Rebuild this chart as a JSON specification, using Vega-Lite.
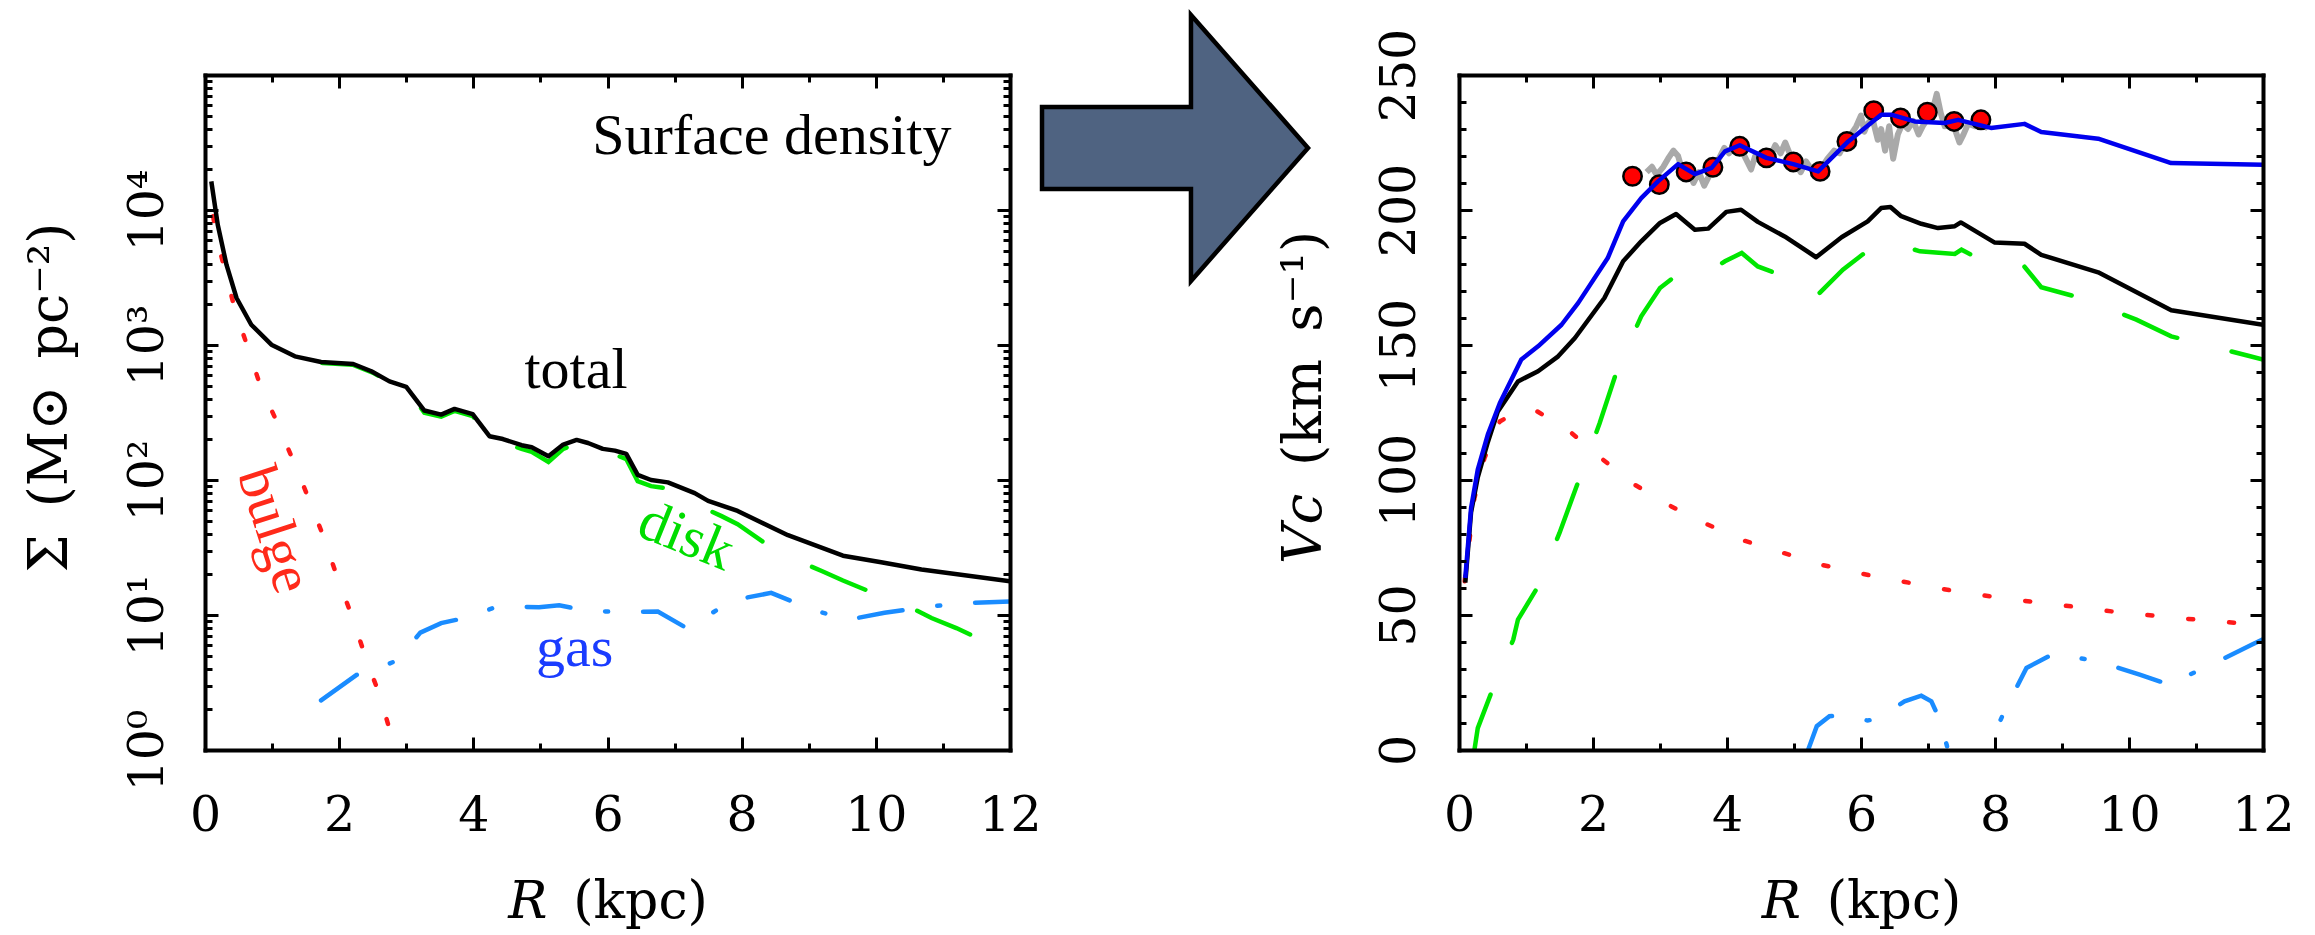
{
  "$schema": "https://vega.github.io/schema/vega-lite/v6.json",
  "background": "white",
  "padding": {"left": 22, "top": 5, "right": 5, "bottom": 10},
  "bounds": "flush",
  "spacing": 0,
  "config": {"view": {"stroke": null}, "axis": {"grid": false}},
  "datasets": {
    "sigma": [
      {"s": "total", "R": 0.094, "v": 16300}, {"s": "total", "R": 0.19, "v": 7780}, {"s": "total", "R": 0.32, "v": 3935}, {"s": "total", "R": 0.47, "v": 2230}, {"s": "total", "R": 0.69, "v": 1413}, {"s": "total", "R": 0.99, "v": 1005}, {"s": "total", "R": 1.34, "v": 824}, {"s": "total", "R": 1.73, "v": 748}, {"s": "total", "R": 2.21, "v": 723}, {"s": "total", "R": 2.48, "v": 639}, {"s": "total", "R": 2.75, "v": 538}, {"s": "total", "R": 3.0, "v": 489}, {"s": "total", "R": 3.27, "v": 327}, {"s": "total", "R": 3.52, "v": 305}, {"s": "total", "R": 3.72, "v": 336}, {"s": "total", "R": 3.99, "v": 308}, {"s": "total", "R": 4.24, "v": 211}, {"s": "total", "R": 4.44, "v": 201}, {"s": "total", "R": 4.72, "v": 181}, {"s": "total", "R": 4.87, "v": 175}, {"s": "total", "R": 5.12, "v": 150}, {"s": "total", "R": 5.34, "v": 183}, {"s": "total", "R": 5.54, "v": 198}, {"s": "total", "R": 5.71, "v": 188}, {"s": "total", "R": 5.93, "v": 170}, {"s": "total", "R": 6.11, "v": 165}, {"s": "total", "R": 6.28, "v": 156}, {"s": "total", "R": 6.45, "v": 109}, {"s": "total", "R": 6.65, "v": 100}, {"s": "total", "R": 6.9, "v": 96}, {"s": "total", "R": 7.3, "v": 80}, {"s": "total", "R": 7.5, "v": 70}, {"s": "total", "R": 7.94, "v": 59}, {"s": "total", "R": 8.69, "v": 39}, {"s": "total", "R": 9.51, "v": 27.5}, {"s": "total", "R": 10.08, "v": 24.6}, {"s": "total", "R": 10.68, "v": 21.7}, {"s": "total", "R": 12.0, "v": 17.8},
      {"s": "disk", "R": 1.75, "v": 735}, {"s": "disk", "R": 2.2, "v": 715}, {"s": "disk", "R": 2.5, "v": 625}, {"s": "disk", "R": 2.75, "v": 530}, {"s": "disk", "R": 3.0, "v": 480}, {"s": "disk", "R": 3.27, "v": 315}, {"s": "disk", "R": 3.52, "v": 295}, {"s": "disk", "R": 3.72, "v": 325}, {"s": "disk", "R": 3.99, "v": 298}, {"s": "disk", "R": 4.24, "v": 200}, {"s": "disk", "R": 4.44, "v": 190}, {"s": "disk", "R": 4.72, "v": 170}, {"s": "disk", "R": 4.87, "v": 162}, {"s": "disk", "R": 5.12, "v": 136}, {"s": "disk", "R": 5.34, "v": 170}, {"s": "disk", "R": 5.54, "v": 186}, {"s": "disk", "R": 5.71, "v": 177}, {"s": "disk", "R": 5.93, "v": 159}, {"s": "disk", "R": 6.11, "v": 154}, {"s": "disk", "R": 6.28, "v": 143}, {"s": "disk", "R": 6.45, "v": 98}, {"s": "disk", "R": 6.65, "v": 90}, {"s": "disk", "R": 6.95, "v": 86}, {"s": "disk", "R": 7.3, "v": 68}, {"s": "disk", "R": 7.5, "v": 60}, {"s": "disk", "R": 7.7, "v": 54}, {"s": "disk", "R": 7.94, "v": 47}, {"s": "disk", "R": 8.45, "v": 31.4}, {"s": "disk", "R": 8.69, "v": 27}, {"s": "disk", "R": 9.21, "v": 21}, {"s": "disk", "R": 9.51, "v": 18}, {"s": "disk", "R": 10.03, "v": 14.1}, {"s": "disk", "R": 10.5, "v": 11.5}, {"s": "disk", "R": 10.83, "v": 9.5}, {"s": "disk", "R": 11.2, "v": 8}, {"s": "disk", "R": 11.62, "v": 6.4}, {"s": "disk", "R": 12.0, "v": 5.6},
      {"s": "gas", "R": 1.73, "v": 2.33}, {"s": "gas", "R": 2.26, "v": 3.6}, {"s": "gas", "R": 2.5, "v": 3.9}, {"s": "gas", "R": 2.86, "v": 4.6}, {"s": "gas", "R": 3.21, "v": 7.4}, {"s": "gas", "R": 3.52, "v": 8.7}, {"s": "gas", "R": 3.87, "v": 9.5}, {"s": "gas", "R": 4.37, "v": 11.6}, {"s": "gas", "R": 4.98, "v": 11.4}, {"s": "gas", "R": 5.28, "v": 11.8}, {"s": "gas", "R": 5.68, "v": 10.8}, {"s": "gas", "R": 6.19, "v": 10.5}, {"s": "gas", "R": 6.75, "v": 10.6}, {"s": "gas", "R": 7.18, "v": 8.0}, {"s": "gas", "R": 7.4, "v": 9.2}, {"s": "gas", "R": 7.85, "v": 12.8}, {"s": "gas", "R": 8.44, "v": 14.6}, {"s": "gas", "R": 9.04, "v": 11}, {"s": "gas", "R": 9.58, "v": 9.2}, {"s": "gas", "R": 10.13, "v": 10.4}, {"s": "gas", "R": 10.83, "v": 11.6}, {"s": "gas", "R": 11.42, "v": 12.3}, {"s": "gas", "R": 12.0, "v": 12.6},
      {"s": "bulge", "R": 0.12, "v": 9000}, {"s": "bulge", "R": 0.2, "v": 5500}, {"s": "bulge", "R": 0.29, "v": 3700}, {"s": "bulge", "R": 0.44, "v": 1880}, {"s": "bulge", "R": 0.64, "v": 950}, {"s": "bulge", "R": 0.82, "v": 508}, {"s": "bulge", "R": 1.09, "v": 257}, {"s": "bulge", "R": 1.31, "v": 141}, {"s": "bulge", "R": 1.54, "v": 74}, {"s": "bulge", "R": 1.75, "v": 40}, {"s": "bulge", "R": 1.95, "v": 20.5}, {"s": "bulge", "R": 2.2, "v": 9.5}, {"s": "bulge", "R": 2.41, "v": 4.6}, {"s": "bulge", "R": 2.61, "v": 2.5}, {"s": "bulge", "R": 2.76, "v": 1.37}, {"s": "bulge", "R": 2.85, "v": 1.0}
    ],
    "vc": [
      {"s": "model", "R": 0.094, "v": 63.7}, {"s": "model", "R": 0.18, "v": 89.6}, {"s": "model", "R": 0.28, "v": 103.8}, {"s": "model", "R": 0.43, "v": 116.8}, {"s": "model", "R": 0.61, "v": 128.5}, {"s": "model", "R": 0.93, "v": 144.6}, {"s": "model", "R": 1.18, "v": 149.5}, {"s": "model", "R": 1.53, "v": 157.5}, {"s": "model", "R": 1.78, "v": 165.6}, {"s": "model", "R": 2.22, "v": 182.2}, {"s": "model", "R": 2.45, "v": 195.8}, {"s": "model", "R": 2.72, "v": 204.4}, {"s": "model", "R": 2.97, "v": 210.6}, {"s": "model", "R": 3.27, "v": 217}, {"s": "model", "R": 3.52, "v": 213.3}, {"s": "model", "R": 3.77, "v": 215.6}, {"s": "model", "R": 3.97, "v": 221.7}, {"s": "model", "R": 4.19, "v": 224}, {"s": "model", "R": 4.59, "v": 219.3}, {"s": "model", "R": 4.99, "v": 217}, {"s": "model", "R": 5.36, "v": 214.3}, {"s": "model", "R": 5.81, "v": 225.4}, {"s": "model", "R": 6.3, "v": 235.3}, {"s": "model", "R": 6.45, "v": 235.3}, {"s": "model", "R": 6.8, "v": 232.8}, {"s": "model", "R": 7.25, "v": 232.2}, {"s": "model", "R": 7.45, "v": 233.4}, {"s": "model", "R": 7.94, "v": 230.4}, {"s": "model", "R": 8.44, "v": 231.9}, {"s": "model", "R": 8.69, "v": 228.9}, {"s": "model", "R": 9.54, "v": 226.4}, {"s": "model", "R": 10.63, "v": 217.4}, {"s": "model", "R": 12.0, "v": 216.8},
      {"s": "total", "R": 0.094, "v": 62}, {"s": "total", "R": 0.18, "v": 88}, {"s": "total", "R": 0.28, "v": 101}, {"s": "total", "R": 0.43, "v": 114}, {"s": "total", "R": 0.58, "v": 125.4}, {"s": "total", "R": 0.88, "v": 136.5}, {"s": "total", "R": 1.18, "v": 140.3}, {"s": "total", "R": 1.48, "v": 145.8}, {"s": "total", "R": 1.73, "v": 152.6}, {"s": "total", "R": 2.17, "v": 167.4}, {"s": "total", "R": 2.45, "v": 181}, {"s": "total", "R": 2.72, "v": 188.4}, {"s": "total", "R": 3.0, "v": 195.2}, {"s": "total", "R": 3.24, "v": 198.5}, {"s": "total", "R": 3.52, "v": 192.7}, {"s": "total", "R": 3.72, "v": 193.1}, {"s": "total", "R": 3.99, "v": 199.3}, {"s": "total", "R": 4.21, "v": 200.1}, {"s": "total", "R": 4.46, "v": 195.6}, {"s": "total", "R": 4.86, "v": 190.2}, {"s": "total", "R": 5.33, "v": 182.5}, {"s": "total", "R": 5.71, "v": 189.9}, {"s": "total", "R": 6.1, "v": 195.8}, {"s": "total", "R": 6.3, "v": 200.7}, {"s": "total", "R": 6.44, "v": 201.1}, {"s": "total", "R": 6.6, "v": 197.7}, {"s": "total", "R": 6.9, "v": 194.9}, {"s": "total", "R": 7.15, "v": 193.3}, {"s": "total", "R": 7.4, "v": 194}, {"s": "total", "R": 7.49, "v": 195.4}, {"s": "total", "R": 7.99, "v": 188}, {"s": "total", "R": 8.44, "v": 187.5}, {"s": "total", "R": 8.69, "v": 183.4}, {"s": "total", "R": 9.54, "v": 176.9}, {"s": "total", "R": 10.63, "v": 162.9}, {"s": "total", "R": 12.0, "v": 157.5},
      {"s": "disk", "R": 0.23, "v": 0}, {"s": "disk", "R": 0.28, "v": 8.1}, {"s": "disk", "R": 0.48, "v": 21.1}, {"s": "disk", "R": 0.81, "v": 40.9}, {"s": "disk", "R": 0.88, "v": 48.3}, {"s": "disk", "R": 1.18, "v": 60.6}, {"s": "disk", "R": 1.5, "v": 80.4}, {"s": "disk", "R": 1.8, "v": 100.7}, {"s": "disk", "R": 2.1, "v": 121.1}, {"s": "disk", "R": 2.37, "v": 141.5}, {"s": "disk", "R": 2.72, "v": 160.6}, {"s": "disk", "R": 3.0, "v": 171.1}, {"s": "disk", "R": 3.27, "v": 176.3}, {"s": "disk", "R": 3.52, "v": 176}, {"s": "disk", "R": 3.72, "v": 177}, {"s": "disk", "R": 3.97, "v": 181}, {"s": "disk", "R": 4.22, "v": 184.1}, {"s": "disk", "R": 4.46, "v": 179.1}, {"s": "disk", "R": 4.76, "v": 176.3}, {"s": "disk", "R": 5.1, "v": 172}, {"s": "disk", "R": 5.33, "v": 168}, {"s": "disk", "R": 5.48, "v": 171.7}, {"s": "disk", "R": 5.73, "v": 177.9}, {"s": "disk", "R": 6.15, "v": 185.9}, {"s": "disk", "R": 6.44, "v": 188}, {"s": "disk", "R": 6.88, "v": 184.7}, {"s": "disk", "R": 7.4, "v": 183.7}, {"s": "disk", "R": 7.5, "v": 185.3}, {"s": "disk", "R": 7.72, "v": 182.5}, {"s": "disk", "R": 8.0, "v": 181}, {"s": "disk", "R": 8.44, "v": 179}, {"s": "disk", "R": 8.69, "v": 171.4}, {"s": "disk", "R": 9.31, "v": 167.2}, {"s": "disk", "R": 10.11, "v": 159.4}, {"s": "disk", "R": 10.63, "v": 153.2}, {"s": "disk", "R": 10.93, "v": 151.4}, {"s": "disk", "R": 11.78, "v": 146}, {"s": "disk", "R": 12.0, "v": 144.6},
      {"s": "bulge", "R": 0.085, "v": 62.5}, {"s": "bulge", "R": 0.23, "v": 93.3}, {"s": "bulge", "R": 0.38, "v": 108.1}, {"s": "bulge", "R": 0.61, "v": 121.7}, {"s": "bulge", "R": 0.85, "v": 125}, {"s": "bulge", "R": 1.15, "v": 125.7}, {"s": "bulge", "R": 1.68, "v": 117.4}, {"s": "bulge", "R": 2.15, "v": 107.5}, {"s": "bulge", "R": 2.62, "v": 98.3}, {"s": "bulge", "R": 3.17, "v": 90.2}, {"s": "bulge", "R": 3.72, "v": 83.4}, {"s": "bulge", "R": 4.26, "v": 77.5}, {"s": "bulge", "R": 4.84, "v": 73}, {"s": "bulge", "R": 5.41, "v": 68.6}, {"s": "bulge", "R": 6.03, "v": 65.2}, {"s": "bulge", "R": 6.6, "v": 62.5}, {"s": "bulge", "R": 7.22, "v": 59.6}, {"s": "bulge", "R": 7.82, "v": 57.3}, {"s": "bulge", "R": 8.42, "v": 55.3}, {"s": "bulge", "R": 9.04, "v": 53.5}, {"s": "bulge", "R": 9.64, "v": 51.6}, {"s": "bulge", "R": 10.23, "v": 50.1}, {"s": "bulge", "R": 10.86, "v": 48.6}, {"s": "bulge", "R": 11.48, "v": 47.3}, {"s": "bulge", "R": 12.0, "v": 46.3},
      {"s": "gas", "R": 5.21, "v": 0}, {"s": "gas", "R": 5.34, "v": 8.8}, {"s": "gas", "R": 5.53, "v": 12.5}, {"s": "gas", "R": 5.63, "v": 12.8}, {"s": "gas", "R": 6.1, "v": 10.9}, {"s": "gas", "R": 6.23, "v": 11.6}, {"s": "gas", "R": 6.65, "v": 18}, {"s": "gas", "R": 6.9, "v": 20.1}, {"s": "gas", "R": 7.05, "v": 18}, {"s": "gas", "R": 7.17, "v": 11.6}, {"s": "gas", "R": 7.3, "v": 0}, {"s": "gas", "R": 7.5, "v": -12}, {"s": "gas", "R": 7.7, "v": -8}, {"s": "gas", "R": 7.87, "v": 0}, {"s": "gas", "R": 7.94, "v": 3.2}, {"s": "gas", "R": 8.14, "v": 14.3}, {"s": "gas", "R": 8.47, "v": 30.4}, {"s": "gas", "R": 8.87, "v": 35.6}, {"s": "gas", "R": 8.99, "v": 34.9}, {"s": "gas", "R": 9.49, "v": 33.2}, {"s": "gas", "R": 10.16, "v": 27.9}, {"s": "gas", "R": 10.63, "v": 24}, {"s": "gas", "R": 10.66, "v": 25.2}, {"s": "gas", "R": 11.18, "v": 31}, {"s": "gas", "R": 11.83, "v": 39}, {"s": "gas", "R": 12.0, "v": 41}
    ],
    "obs": [
      {"R": 2.59, "v": 212.5}, {"R": 2.99, "v": 209.4}, {"R": 3.39, "v": 214.1}, {"R": 3.79, "v": 215.8}, {"R": 4.19, "v": 223.6}, {"R": 4.59, "v": 219.3}, {"R": 4.99, "v": 217.8}, {"R": 5.39, "v": 214.3}, {"R": 5.79, "v": 225.4}, {"R": 6.19, "v": 236.8}, {"R": 6.59, "v": 234.1}, {"R": 6.99, "v": 236.2}, {"R": 7.39, "v": 232.8}, {"R": 7.79, "v": 233.4}
    ],
    "grey": [
      {"R": 2.8, "v": 214}, {"R": 2.88, "v": 216}, {"R": 2.95, "v": 213}, {"R": 3.05, "v": 216}, {"R": 3.12, "v": 219}, {"R": 3.2, "v": 222}, {"R": 3.27, "v": 220}, {"R": 3.35, "v": 213}, {"R": 3.42, "v": 215}, {"R": 3.5, "v": 210}, {"R": 3.58, "v": 214}, {"R": 3.66, "v": 209}, {"R": 3.72, "v": 212}, {"R": 3.8, "v": 216}, {"R": 3.88, "v": 219}, {"R": 3.96, "v": 223}, {"R": 4.03, "v": 221}, {"R": 4.1, "v": 224}, {"R": 4.2, "v": 223}, {"R": 4.28, "v": 219}, {"R": 4.36, "v": 215}, {"R": 4.42, "v": 220}, {"R": 4.5, "v": 218}, {"R": 4.58, "v": 222}, {"R": 4.65, "v": 220}, {"R": 4.72, "v": 224}, {"R": 4.8, "v": 221}, {"R": 4.87, "v": 225}, {"R": 4.95, "v": 220}, {"R": 5.03, "v": 217}, {"R": 5.1, "v": 214}, {"R": 5.18, "v": 218}, {"R": 5.26, "v": 215}, {"R": 5.34, "v": 213}, {"R": 5.42, "v": 216}, {"R": 5.5, "v": 219}, {"R": 5.6, "v": 222}, {"R": 5.68, "v": 221}, {"R": 5.76, "v": 225}, {"R": 5.85, "v": 228}, {"R": 5.93, "v": 231}, {"R": 6.0, "v": 235}, {"R": 6.05, "v": 229}, {"R": 6.1, "v": 232}, {"R": 6.17, "v": 234}, {"R": 6.25, "v": 226}, {"R": 6.3, "v": 230}, {"R": 6.36, "v": 222}, {"R": 6.42, "v": 231}, {"R": 6.48, "v": 219}, {"R": 6.55, "v": 228}, {"R": 6.62, "v": 232}, {"R": 6.7, "v": 230}, {"R": 6.78, "v": 233}, {"R": 6.86, "v": 228}, {"R": 6.92, "v": 231}, {"R": 7.0, "v": 234}, {"R": 7.07, "v": 237}, {"R": 7.13, "v": 243}, {"R": 7.19, "v": 236}, {"R": 7.25, "v": 231}, {"R": 7.32, "v": 234}, {"R": 7.4, "v": 230}, {"R": 7.47, "v": 225}, {"R": 7.53, "v": 228}, {"R": 7.6, "v": 232}, {"R": 7.7, "v": 231}, {"R": 7.8, "v": 233}, {"R": 7.9, "v": 230}
    ],
    "annot": [
      {"label": "Surface density", "R": 8.45, "v": 26000},
      {"label": "total", "R": 5.53, "v": 480},
      {"label": "disk", "R": 7.17, "v": 37.8},
      {"label": "gas", "R": 5.51, "v": 4.19},
      {"label": "bulge", "R": 1.02, "v": 42.6}
    ],
    "arrow": [{"x": 0.3675, "y": 0.8919}]
  },
  "hconcat": [
    {
      "width": 805,
      "height": 675,
      "layer": [
        {
          "data": {"name": "sigma"},
          "transform": [{"filter": "datum.s == 'gas'"}],
          "mark": {"type": "line", "color": "#1a8cff", "strokeWidth": 4.5, "strokeDash": [44, 35, 3, 35], "strokeCap": "round", "clip": true},
          "encoding": {
            "x": {"field": "R", "type": "quantitative", "scale": {"domain": [0, 12], "nice": false, "zero": false},
              "axis": {"orient": "bottom", "values": [0,1,2,3,4,5,6,7,8,9,10,11,12], "labelExpr": "datum.value % 2 == 0 ? datum.label : ''", "labelFont": "DejaVu Serif", "labelFontSize": 49, "labelColor": "black", "labelPadding": 54, "labelFlush": false, "labelOverlap": false, "tickSize": {"condition": {"test": "datum.value % 2 == 0", "value": -13}, "value": -7}, "tickWidth": 3, "tickColor": "black", "domainWidth": 4, "domainColor": "black", "domainCap": "square", "title": "𝑅\u2002(kpc)", "titleFont": "DejaVu Serif", "titleFontSize": 52, "titleFontWeight": "normal", "titleColor": "black", "titlePadding": 30, "zindex": 1}},
            "y": {"field": "v", "type": "quantitative", "scale": {"type": "log", "domain": [1, 100000], "nice": false},
              "axis": {"orient": "left", "values": [1,2,3,4,5,6,7,8,9,10,20,30,40,50,60,70,80,90,100,200,300,400,500,600,700,800,900,1000,2000,3000,4000,5000,6000,7000,8000,9000,10000,20000,30000,40000,50000,60000,70000,80000,90000,100000], "labelExpr": "datum.value == 1 ? '10⁰' : datum.value == 10 ? '10¹' : datum.value == 100 ? '10²' : datum.value == 1000 ? '10³' : datum.value == 10000 ? '10⁴' : ''", "labelAngle": 270, "labelAlign": "center", "labelBaseline": "alphabetic", "labelFont": "DejaVu Serif", "labelFontSize": 49, "labelColor": "black", "labelPadding": 56, "labelFlush": false, "labelOverlap": false, "tickSize": {"condition": {"test": "indexof([1,10,100,1000,10000,100000], datum.value) >= 0", "value": -13}, "value": -7}, "tickWidth": 3, "tickColor": "black", "domainWidth": 4, "domainColor": "black", "domainCap": "square", "title": "Σ\u2002(M⊙\u2002pc⁻²)", "titleFont": "DejaVu Serif", "titleFontSize": 54, "titleFontWeight": "normal", "titleColor": "black", "titleAngle": 270, "titleBaseline": "bottom", "titlePadding": 40, "titleY": 322, "zindex": 1}}
          }
        },
        {
          "data": {"name": "sigma"},
          "transform": [{"filter": "datum.s == 'bulge'"}],
          "mark": {"type": "line", "color": "#ff1a1a", "strokeWidth": 4.5, "strokeDash": [5, 36], "strokeCap": "round", "clip": true},
          "encoding": {
            "x": {"field": "R", "type": "quantitative", "scale": {"domain": [0, 12], "nice": false, "zero": false},
              "axis": {"orient": "top", "values": [0,1,2,3,4,5,6,7,8,9,10,11,12], "labels": false, "tickSize": {"condition": {"test": "datum.value % 2 == 0", "value": -13}, "value": -7}, "tickWidth": 3, "tickColor": "black", "domainWidth": 4, "domainColor": "black", "domainCap": "square", "title": null, "zindex": 1}},
            "y": {"field": "v", "type": "quantitative", "scale": {"type": "log", "domain": [1, 100000], "nice": false},
              "axis": {"orient": "right", "values": [1,2,3,4,5,6,7,8,9,10,20,30,40,50,60,70,80,90,100,200,300,400,500,600,700,800,900,1000,2000,3000,4000,5000,6000,7000,8000,9000,10000,20000,30000,40000,50000,60000,70000,80000,90000,100000], "labels": false, "tickSize": {"condition": {"test": "indexof([1,10,100,1000,10000,100000], datum.value) >= 0", "value": -13}, "value": -7}, "tickWidth": 3, "tickColor": "black", "domainWidth": 4, "domainColor": "black", "domainCap": "square", "title": null, "zindex": 1}}
          }
        },
        {
          "data": {"name": "sigma"},
          "transform": [{"filter": "datum.s == 'disk'"}],
          "mark": {"type": "line", "color": "#00e600", "strokeWidth": 4.5, "strokeDash": [58, 56], "strokeCap": "round", "clip": true},
          "encoding": {
            "x": {"field": "R", "type": "quantitative", "scale": {"domain": [0, 12], "nice": false, "zero": false}, "axis": null},
            "y": {"field": "v", "type": "quantitative", "scale": {"type": "log", "domain": [1, 100000], "nice": false}, "axis": null}
          }
        },
        {
          "data": {"name": "sigma"},
          "transform": [{"filter": "datum.s == 'total'"}],
          "mark": {"type": "line", "color": "black", "strokeWidth": 4.5, "strokeJoin": "round", "clip": true},
          "encoding": {
            "x": {"field": "R", "type": "quantitative", "scale": {"domain": [0, 12], "nice": false, "zero": false}, "axis": null},
            "y": {"field": "v", "type": "quantitative", "scale": {"type": "log", "domain": [1, 100000], "nice": false}, "axis": null}
          }
        },
        {
          "data": {"name": "annot"},
          "transform": [{"filter": "datum.label == 'Surface density' || datum.label == 'total'"}],
          "mark": {"type": "text", "font": "Liberation Serif", "fontSize": 58, "color": "black", "align": "center", "baseline": "alphabetic"},
          "encoding": {
            "x": {"field": "R", "type": "quantitative", "axis": null},
            "y": {"field": "v", "type": "quantitative", "axis": null},
            "text": {"field": "label"}
          }
        },
        {
          "data": {"name": "annot"},
          "transform": [{"filter": "datum.label == 'gas'"}],
          "mark": {"type": "text", "font": "Liberation Serif", "fontSize": 58, "color": "#1a3cff", "align": "center", "baseline": "alphabetic"},
          "encoding": {
            "x": {"field": "R", "type": "quantitative", "axis": null},
            "y": {"field": "v", "type": "quantitative", "axis": null},
            "text": {"field": "label"}
          }
        },
        {
          "data": {"name": "annot"},
          "transform": [{"filter": "datum.label == 'disk'"}],
          "mark": {"type": "text", "font": "Liberation Serif", "fontSize": 58, "color": "#00dd00", "align": "center", "baseline": "middle", "angle": 22},
          "encoding": {
            "x": {"field": "R", "type": "quantitative", "axis": null},
            "y": {"field": "v", "type": "quantitative", "axis": null},
            "text": {"field": "label"}
          }
        },
        {
          "data": {"name": "annot"},
          "transform": [{"filter": "datum.label == 'bulge'"}],
          "mark": {"type": "text", "font": "Liberation Serif", "fontSize": 58, "color": "#ff2a1a", "align": "center", "baseline": "middle", "angle": 72},
          "encoding": {
            "x": {"field": "R", "type": "quantitative", "axis": null},
            "y": {"field": "v", "type": "quantitative", "axis": null},
            "text": {"field": "label"}
          }
        }
      ],
      "resolve": {"axis": {"x": "independent", "y": "independent"}}
    },
    {
      "width": 449,
      "height": 675,
      "data": {"name": "arrow"},
      "mark": {"type": "point", "shape": "M -1 -0.308 L 0.12 -0.308 L 0.12 -1 L 1 0 L 0.12 1 L 0.12 0.308 L -1 0.308 Z", "size": 70756, "filled": true, "fill": "#4f6381", "stroke": "black", "strokeWidth": 4.5, "strokeJoin": "miter", "opacity": 1},
      "encoding": {
        "x": {"field": "x", "type": "quantitative", "scale": {"domain": [0, 1], "nice": false, "zero": false}, "axis": null},
        "y": {"field": "y", "type": "quantitative", "scale": {"domain": [0, 1], "nice": false, "zero": false}, "axis": null}
      }
    },
    {
      "width": 804,
      "height": 675,
      "layer": [
        {
          "data": {"name": "grey"},
          "mark": {"type": "line", "color": "#a9a9a9", "strokeWidth": 6, "strokeJoin": "round", "clip": true},
          "encoding": {
            "x": {"field": "R", "type": "quantitative", "scale": {"domain": [0, 12], "nice": false, "zero": false},
              "axis": {"orient": "bottom", "values": [0,1,2,3,4,5,6,7,8,9,10,11,12], "labelExpr": "datum.value % 2 == 0 ? datum.label : ''", "labelFont": "DejaVu Serif", "labelFontSize": 49, "labelColor": "black", "labelPadding": 54, "labelFlush": false, "labelOverlap": false, "tickSize": {"condition": {"test": "datum.value % 2 == 0", "value": -13}, "value": -7}, "tickWidth": 3, "tickColor": "black", "domainWidth": 4, "domainColor": "black", "domainCap": "square", "title": "𝑅\u2002(kpc)", "titleFont": "DejaVu Serif", "titleFontSize": 52, "titleFontWeight": "normal", "titleColor": "black", "titlePadding": 30, "zindex": 1}},
            "y": {"field": "v", "type": "quantitative", "scale": {"domain": [0, 250], "nice": false, "zero": false},
              "axis": {"orient": "left", "values": [0,10,20,30,40,50,60,70,80,90,100,110,120,130,140,150,160,170,180,190,200,210,220,230,240,250], "labelExpr": "datum.value % 50 == 0 ? datum.label : ''", "labelAngle": 270, "labelAlign": "center", "labelBaseline": "alphabetic", "labelFont": "DejaVu Serif", "labelFontSize": 49, "labelColor": "black", "labelPadding": 58, "labelFlush": false, "labelOverlap": false, "tickSize": {"condition": {"test": "datum.value % 50 == 0", "value": -13}, "value": -7}, "tickWidth": 3, "tickColor": "black", "domainWidth": 4, "domainColor": "black", "domainCap": "square", "title": "𝑉𝑐\u2002(km\u2002s⁻¹)", "titleFont": "DejaVu Serif", "titleFontSize": 55, "titleFontWeight": "normal", "titleColor": "black", "titleAngle": 270, "titleBaseline": "bottom", "titlePadding": 37, "titleY": 322, "zindex": 1}}
          }
        },
        {
          "data": {"name": "vc"},
          "transform": [{"filter": "datum.s == 'bulge'"}],
          "mark": {"type": "line", "color": "#ff1a1a", "strokeWidth": 4.5, "strokeDash": [5, 36], "strokeCap": "round", "clip": true},
          "encoding": {
            "x": {"field": "R", "type": "quantitative", "scale": {"domain": [0, 12], "nice": false, "zero": false},
              "axis": {"orient": "top", "values": [0,1,2,3,4,5,6,7,8,9,10,11,12], "labels": false, "tickSize": {"condition": {"test": "datum.value % 2 == 0", "value": -13}, "value": -7}, "tickWidth": 3, "tickColor": "black", "domainWidth": 4, "domainColor": "black", "domainCap": "square", "title": null, "zindex": 1}},
            "y": {"field": "v", "type": "quantitative", "scale": {"domain": [0, 250], "nice": false, "zero": false},
              "axis": {"orient": "right", "values": [0,10,20,30,40,50,60,70,80,90,100,110,120,130,140,150,160,170,180,190,200,210,220,230,240,250], "labels": false, "tickSize": {"condition": {"test": "datum.value % 50 == 0", "value": -13}, "value": -7}, "tickWidth": 3, "tickColor": "black", "domainWidth": 4, "domainColor": "black", "domainCap": "square", "title": null, "zindex": 1}}
          }
        },
        {
          "data": {"name": "vc"},
          "transform": [{"filter": "datum.s == 'disk'"}],
          "mark": {"type": "line", "color": "#00e600", "strokeWidth": 4.5, "strokeDash": [58, 56], "strokeCap": "round", "clip": true},
          "encoding": {
            "x": {"field": "R", "type": "quantitative", "scale": {"domain": [0, 12], "nice": false, "zero": false}, "axis": null},
            "y": {"field": "v", "type": "quantitative", "scale": {"domain": [0, 250], "nice": false, "zero": false}, "axis": null}
          }
        },
        {
          "data": {"name": "vc"},
          "transform": [{"filter": "datum.s == 'gas'"}],
          "mark": {"type": "line", "color": "#1a8cff", "strokeWidth": 4.5, "strokeDash": [44, 35, 3, 35], "strokeCap": "round", "clip": true},
          "encoding": {
            "x": {"field": "R", "type": "quantitative", "scale": {"domain": [0, 12], "nice": false, "zero": false}, "axis": null},
            "y": {"field": "v", "type": "quantitative", "scale": {"domain": [0, 250], "nice": false, "zero": false}, "axis": null}
          }
        },
        {
          "data": {"name": "vc"},
          "transform": [{"filter": "datum.s == 'total'"}],
          "mark": {"type": "line", "color": "black", "strokeWidth": 4.5, "strokeJoin": "round", "clip": true},
          "encoding": {
            "x": {"field": "R", "type": "quantitative", "scale": {"domain": [0, 12], "nice": false, "zero": false}, "axis": null},
            "y": {"field": "v", "type": "quantitative", "scale": {"domain": [0, 250], "nice": false, "zero": false}, "axis": null}
          }
        },
        {
          "data": {"name": "obs"},
          "mark": {"type": "point", "shape": "circle", "size": 340, "filled": true, "fill": "#ff0000", "stroke": "black", "strokeWidth": 2.5, "opacity": 1},
          "encoding": {
            "x": {"field": "R", "type": "quantitative", "scale": {"domain": [0, 12], "nice": false, "zero": false}, "axis": null},
            "y": {"field": "v", "type": "quantitative", "scale": {"domain": [0, 250], "nice": false, "zero": false}, "axis": null}
          }
        },
        {
          "data": {"name": "vc"},
          "transform": [{"filter": "datum.s == 'model'"}],
          "mark": {"type": "line", "color": "#0000ee", "strokeWidth": 4.5, "strokeJoin": "round", "clip": true},
          "encoding": {
            "x": {"field": "R", "type": "quantitative", "scale": {"domain": [0, 12], "nice": false, "zero": false}, "axis": null},
            "y": {"field": "v", "type": "quantitative", "scale": {"domain": [0, 250], "nice": false, "zero": false}, "axis": null}
          }
        }
      ],
      "resolve": {"axis": {"x": "independent", "y": "independent"}}
    }
  ]
}
